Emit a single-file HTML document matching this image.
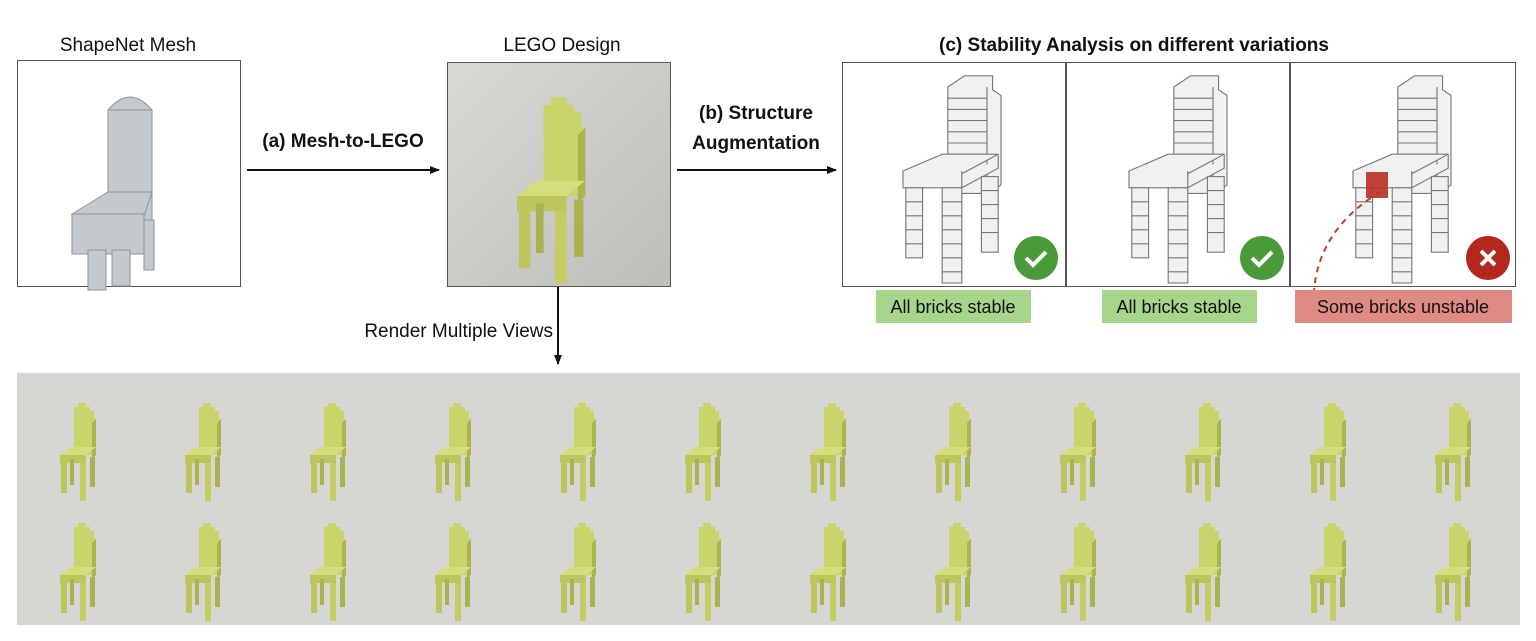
<!DOCTYPE html>
<html><head><meta charset="utf-8"><style>
html,body{margin:0;padding:0;background:#fff;}
svg{display:block}
text{font-family:"Liberation Sans",sans-serif;}
</style></head><body>
<svg width="1536" height="641" viewBox="0 0 1536 641" xmlns="http://www.w3.org/2000/svg">
<defs>
<marker id="ah" markerWidth="10" markerHeight="8" refX="9" refY="4" orient="auto" markerUnits="userSpaceOnUse"><path d="M0,0 L10,4 L0,8 z" fill="#111"/></marker>
<linearGradient id="lg" x1="0" y1="0" x2="1" y2="1"><stop offset="0" stop-color="#d9d9d6"/><stop offset="1" stop-color="#bdbdb9"/></linearGradient>
<g id="yc">
  <path d="M-6,-48 h4 v-4 h8 v4 h4 v4 h4 v8 h2 v36 h-22 z" fill="#c9d46a"/>
  <path d="M16,-36 v36 l-4,4 v-36 z" fill="#aab54f"/>
  <path d="M-20,0 h26 l10,-8 h-26 z" fill="#d4de7c"/>
  <path d="M-20,0 h26 v8 h-26 z" fill="#bcc65c"/>
  <rect x="-19" y="8" width="6" height="30" fill="#bcc65c"/>
  <rect x="0" y="8" width="6" height="38" fill="#c3cd62"/>
  <rect x="10" y="2" width="5" height="30" fill="#a9b34f"/>
  <rect x="-10" y="4" width="4" height="26" fill="#a9b34f"/>
</g>
<g id="gc" fill="#f1f1f1" stroke="#777" stroke-width="0.8">
  <path d="M-18,-70 l12,-8 h20 v10 l6,4 v64 l-8,6 h-30 z"/>
  <path d="M-18,-62 h28 M-18,-54 h28 M-18,-46 h28 M-18,-38 h28 M-18,-30 h28 M-18,-22 h28 M10,-70 v64"/>
  <path d="M-50,-10 l28,-12 h40 l-26,14 h-42 z"/>
  <path d="M-50,-10 v12 h42 v-12 M-8,2 l26,-14 v-10"/>
  <rect x="-48" y="2" width="12" height="50"/>
  <rect x="-22" y="2" width="14" height="68"/>
  <rect x="6" y="-6" width="12" height="54"/>
  <path d="M-48,12 h12 M-48,22 h12 M-48,32 h12 M-48,42 h12 M-22,12 h14 M-22,22 h14 M-22,32 h14 M-22,42 h14 M-22,52 h14 M-22,62 h14 M6,4 h12 M6,14 h12 M6,24 h12 M6,34 h12"/>
</g>
</defs>

<text x="128" y="51" font-size="19" text-anchor="middle" fill="#111">ShapeNet Mesh</text>
<text x="562" y="51" font-size="19" text-anchor="middle" fill="#111">LEGO Design</text>
<text x="1134" y="51" font-size="19" font-weight="bold" text-anchor="middle" fill="#111">(c) Stability Analysis on different variations</text>

<rect x="17.5" y="60.5" width="223" height="226" fill="#fff" stroke="#555" stroke-width="1"/>
<g fill="#c4c9ce" stroke="#8c9298" stroke-width="1">
  <path d="M108,110 q22,-26 44,0 v120 l-6,8 z"/>
  <rect x="108" y="110" width="44" height="118"/>
  <path d="M72,214 l36,-22 h44 l-8,24 z"/>
  <rect x="72" y="214" width="72" height="40"/>
  <rect x="88" y="250" width="18" height="40"/>
  <rect x="112" y="250" width="18" height="36"/>
  <rect x="144" y="220" width="10" height="50"/>
</g>

<rect x="447.5" y="62.5" width="223" height="224" fill="url(#lg)" stroke="#555" stroke-width="1"/>
<g transform="translate(555,196) scale(1.9)"><use href="#yc"/></g>

<text x="343" y="147" font-size="19" font-weight="bold" text-anchor="middle" fill="#111">(a) Mesh-to-LEGO</text>
<line x1="247" y1="170" x2="439" y2="170" stroke="#111" stroke-width="2" marker-end="url(#ah)"/>
<text x="756" y="119" font-size="19" font-weight="bold" text-anchor="middle" fill="#111">(b) Structure</text>
<text x="756" y="149" font-size="19" font-weight="bold" text-anchor="middle" fill="#111">Augmentation</text>
<line x1="677" y1="170" x2="836" y2="170" stroke="#111" stroke-width="2" marker-end="url(#ah)"/>
<line x1="558" y1="287" x2="558" y2="364" stroke="#111" stroke-width="2" marker-end="url(#ah)"/>
<text x="553" y="337" font-size="19" text-anchor="end" fill="#111">Render Multiple Views</text>

<rect x="842.5" y="62.5" width="223" height="224" fill="#fff" stroke="#555"/>
<rect x="1066.5" y="62.5" width="223" height="224" fill="#fff" stroke="#555"/>
<rect x="1290.5" y="62.5" width="225" height="224" fill="#fff" stroke="#555"/>
<g transform="translate(973,185) scale(1.4)"><use href="#gc"/></g>
<g transform="translate(1199,185) scale(1.4)"><use href="#gc"/></g>
<g transform="translate(1423,185) scale(1.4)"><use href="#gc"/></g>
<rect x="1366" y="172" width="22" height="26" fill="#b8332a" opacity="0.92"/>
<path d="M1380,192 Q1318,230 1314,292" fill="none" stroke="#c0392b" stroke-width="2" stroke-dasharray="6,5"/>
<circle cx="1036" cy="258" r="22" fill="#4a9a3a"/>
<path d="M1026,258 l7,7 l13,-13" fill="none" stroke="#fff" stroke-width="4"/>
<circle cx="1262" cy="258" r="22" fill="#4a9a3a"/>
<path d="M1252,258 l7,7 l13,-13" fill="none" stroke="#fff" stroke-width="4"/>
<circle cx="1488" cy="258" r="22" fill="#b3271f"/>
<path d="M1481,251 l14,14 M1495,251 l-14,14" stroke="#fff" stroke-width="4"/>

<rect x="876" y="290" width="155" height="33" fill="#a8d58c"/>
<text x="953" y="313" font-size="18" text-anchor="middle" fill="#111">All bricks stable</text>
<rect x="1102" y="290" width="155" height="33" fill="#a8d58c"/>
<text x="1179" y="313" font-size="18" text-anchor="middle" fill="#111">All bricks stable</text>
<rect x="1295" y="290" width="217" height="33" fill="#e08a84"/>
<text x="1403" y="313" font-size="18" text-anchor="middle" fill="#111">Some bricks unstable</text>

<rect x="17" y="373" width="1503" height="252" fill="#d6d6d2"/>
<g>
<use href="#yc" x="80" y="455"/><use href="#yc" x="205" y="455"/><use href="#yc" x="330" y="455"/><use href="#yc" x="455" y="455"/>
<use href="#yc" x="580" y="455"/><use href="#yc" x="705" y="455"/><use href="#yc" x="830" y="455"/><use href="#yc" x="955" y="455"/>
<use href="#yc" x="1080" y="455"/><use href="#yc" x="1205" y="455"/><use href="#yc" x="1330" y="455"/><use href="#yc" x="1455" y="455"/>
<use href="#yc" x="80" y="575"/><use href="#yc" x="205" y="575"/><use href="#yc" x="330" y="575"/><use href="#yc" x="455" y="575"/>
<use href="#yc" x="580" y="575"/><use href="#yc" x="705" y="575"/><use href="#yc" x="830" y="575"/><use href="#yc" x="955" y="575"/>
<use href="#yc" x="1080" y="575"/><use href="#yc" x="1205" y="575"/><use href="#yc" x="1330" y="575"/><use href="#yc" x="1455" y="575"/>
</g>
</svg>
</body></html>
